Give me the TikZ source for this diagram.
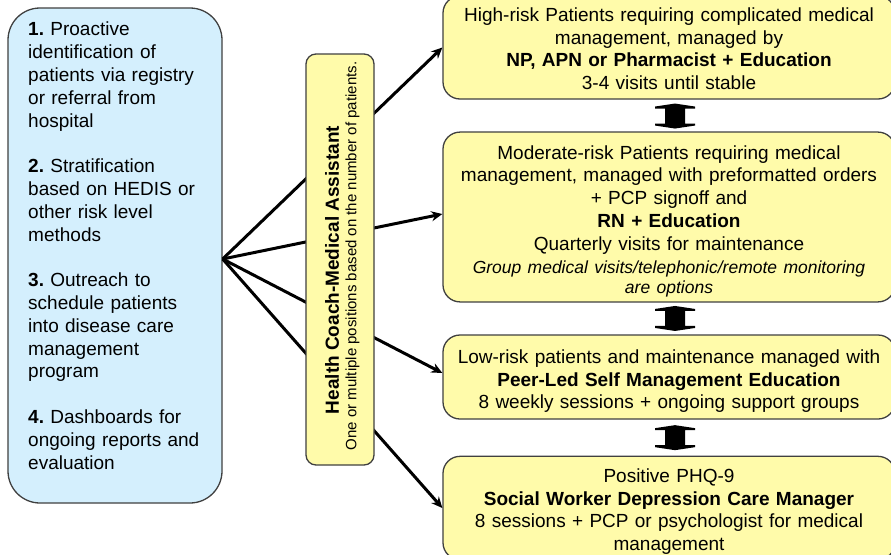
\documentclass[tikz,border=0pt]{standalone}
\usepackage{fontspec}
\setmainfont{Liberation Sans}
\usetikzlibrary{arrows.meta,calc}
\definecolor{boxblue}{HTML}{D4EFFD}
\definecolor{boxyellow}{HTML}{FFFBAA}
\definecolor{edgegray}{HTML}{404040}
\newcommand{\mainsize}{\fontsize{19}{22.8}\selectfont}
\newcommand{\itsize}{\fontsize{17.5}{20}\selectfont}
\frenchspacing
\begin{document}
\begin{tikzpicture}[x=1pt,y=-1pt,
  bluebox/.style={draw=edgegray,line width=1.3pt,fill=boxblue,rounded corners=32pt,
    minimum width=214pt,minimum height=495pt,inner sep=0pt},
  bluetext/.style={text width=195pt,align=left,inner sep=0pt,font=\mainsize},
  yellowbox/.style={draw=edgegray,line width=1.3pt,fill=boxyellow,rounded corners=17pt,
    minimum width=452pt,text width=442pt,align=center,inner sep=5pt,font=\mainsize},
  midbox/.style={draw=edgegray,line width=1.3pt,fill=boxyellow,rounded corners=10pt,
    minimum width=68pt,minimum height=411pt,inner sep=0pt},
  link/.style={line width=3pt,-{Stealth[length=11pt,width=10pt]}},
  dblarrow/.pic={\fill[black] (0,-12.5) -- (20,-9.5) -- (20,-7.5) -- (10,-7.5) -- (10,7.5)
    -- (20,7.5) -- (20,9.5) -- (0,12.5) -- (-20,9.5) -- (-20,7.5) -- (-10,7.5)
    -- (-10,-7.5) -- (-20,-7.5) -- (-20,-9.5) -- cycle;}
]
\clip (0,0) rectangle (891,554);
\fill[white] (0,0) rectangle (891,554);

% right boxes
\node[yellowbox,minimum height=103pt] (box1) at (669,47.5) {\rule{0pt}{16pt}High-risk Patients requiring complicated medical\\ management, managed by\\ \textbf{NP, APN or Pharmacist + Education}\\ 3-4 visits until stable};
\node[yellowbox,minimum height=160pt] (box2) at (669,217) {\rule{0pt}{22pt}Moderate-risk Patients requiring medical\\ management, managed with preformatted orders\\ + PCP signoff and\\ \textbf{RN + Education}\\ Quarterly visits for maintenance\\[3pt] {\itsize\itshape Group medical visits/telephonic/remote monitoring\\[-2.8pt] are options}};
\node[yellowbox,minimum height=84pt] (box3) at (669,377) {\rule{0pt}{22pt}Low-risk patients and maintenance managed with\\ \textbf{Peer-Led Self Management Education}\\ 8 weekly sessions + ongoing support groups};
\node[yellowbox,minimum height=102pt] (box4) at (669,508) {\rule{0pt}{21pt}Positive PHQ-9\\ \textbf{Social Worker Depression Care Manager}\\ 8 sessions + PCP or psychologist for medical\\ management};

% double arrows between boxes
\coordinate (da1) at ($(box1.south)!0.5!(box2.north)+(6,0.5)$);
\coordinate (da2) at ($(box2.south)!0.5!(box3.north)+(6,0)$);
\coordinate (da3) at ($(box3.south)!0.5!(box4.north)+(6,0)$);
\pic at (da1) {dblarrow};
\pic at (da2) {dblarrow};
\pic at (da3) {dblarrow};

% left box
\node[bluebox] (blue) at (115,255.5) {};
\node[bluetext,anchor=north west] (bluetxt) at (28,22) {\textbf{1.} Proactive\\ identification of\\ patients via registry\\ or referral from\\ hospital\\[22.8pt] \textbf{2.} Stratification\\ based on HEDIS or\\ other risk level\\ methods\\[22.8pt] \textbf{3.} Outreach to\\ schedule patients\\ into disease care\\ management\\ program\\[22.8pt] \textbf{4.} Dashboards for\\ ongoing reports and\\ evaluation};

% connectors
\coordinate (hub) at ($(blue.east)+(0,3.5)$);
\draw[link] (hub) -- (box1.west);
\draw[link] (hub) -- ($(box2.west)+(0,-3)$);
\draw[link] (hub) -- ($(box3.west)+(0,-4)$);
\draw[link] (hub) -- (box4.west);

% middle box
\node[midbox] (mid) at (340,259.5) {};
\node[rotate=90,inner sep=0pt,font=\bfseries\mainsize] (midtitle) at (332,270) {Health Coach-Medical Assistant};
\node[rotate=90,inner sep=0pt,font=\fontsize{15}{18}\selectfont] (midsub) at (352.5,256) {One or multiple positions based on the number of patients.};
\end{tikzpicture}
\end{document}
